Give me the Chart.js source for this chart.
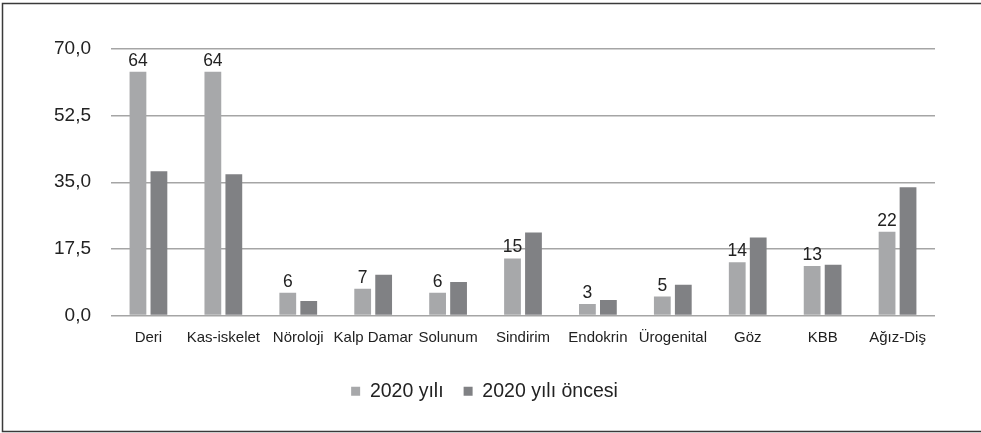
<!DOCTYPE html>
<html>
<head>
<meta charset="utf-8">
<script src="https://cdn.jsdelivr.net/npm/chart.js@4.4.1/dist/chart.umd.min.js"></script>
<style>
  html, body { margin: 0; padding: 0; background: #fff; }
  #wrap { width: 981px; height: 433px; position: relative; }
</style>
</head>
<body>
<div id="wrap"><canvas id="c" width="981" height="433"></canvas></div>
<script>
// Body-system groups
const categories = ["Deri", "Kas-iskelet", "Nöroloji", "Kalp Damar", "Solunum", "Sindirim",
                    "Endokrin", "Ürogenital", "Göz", "KBB", "Ağız-Diş"];
// 2020 values (labelled above bars)
const values2020 = [64, 64, 6, 7, 6, 15, 3, 5, 14, 13, 22];
// Values before 2020
const valuesBefore = [37.9, 37.1, 3.8, 10.7, 8.8, 21.8, 4.1, 8.1, 20.5, 13.3, 33.7];
const seriesNames = ["2020 yılı", "2020 yılı öncesi"];
const yTicks = [0, 17.5, 35, 52.5, 70];

const FONT = "'Liberation Sans', Arial, Helvetica, sans-serif";

// Frame lines on the top, left and bottom of the figure
const framePlugin = {
  id: 'frame',
  afterDraw(chart) {
    const ctx = chart.ctx;
    const w = chart.width, h = chart.height;
    ctx.save();
    ctx.strokeStyle = '#3a3a3a';
    ctx.lineWidth = 1.5;
    ctx.beginPath();
    ctx.moveTo(w, 3.5);
    ctx.lineTo(2.5, 3.5);
    ctx.lineTo(2.5, h - 1.5);
    ctx.lineTo(w, h - 1.5);
    ctx.stroke();
    ctx.restore();
  }
};

// Value labels above the 2020 bars
const valueLabels = {
  id: 'valueLabels',
  afterDatasetsDraw(chart) {
    const ctx = chart.ctx;
    const meta = chart.getDatasetMeta(0);
    ctx.save();
    ctx.font = '17.5px ' + FONT;
    ctx.fillStyle = '#222';
    ctx.textAlign = 'center';
    ctx.textBaseline = 'bottom';
    meta.data.forEach((bar, i) => {
      ctx.fillText(String(values2020[i]), bar.x, bar.y - 2);
    });
    ctx.restore();
  }
};

new Chart(document.getElementById('c'), {
  type: 'bar',
  data: {
    labels: categories,
    datasets: [
      { label: seriesNames[0], data: values2020, backgroundColor: '#a7a8aa', borderWidth: 0 },
      { label: seriesNames[1], data: valuesBefore, backgroundColor: '#808184', borderWidth: 0 }
    ]
  },
  options: {
    responsive: false,
    animation: false,
    devicePixelRatio: 1,
    categoryPercentage: 0.56,
    barPercentage: 0.8,
    layout: { padding: { top: 49, left: 34, right: 46, bottom: 22 } },
    plugins: {
      legend: {
        position: 'bottom',
        labels: {
          font: { family: FONT, size: 19.5 },
          color: '#222',
          boxWidth: 9,
          boxHeight: 9,
          padding: 20
        }
      },
      tooltip: { enabled: false }
    },
    scales: {
      x: {
        grid: { display: false },
        border: { display: false },
        afterFit(axis) { axis.height += 10; },
        ticks: { font: { family: FONT, size: 15 }, color: '#222', padding: 5, maxRotation: 0, autoSkip: false }
      },
      y: {
        min: 0,
        max: 70,
        afterBuildTicks(axis) { axis.ticks = yTicks.map(v => ({ value: v })); },
        grid: { color: '#a5a5a5', lineWidth: 1.5, drawTicks: false },
        border: { display: false },
        ticks: {
          font: { family: FONT, size: 19 },
          color: '#222',
          padding: 20,
          callback: v => Number(v).toFixed(1).replace('.', ',')
        }
      }
    }
  },
  plugins: [framePlugin, valueLabels]
});
</script>
</body>
</html>
